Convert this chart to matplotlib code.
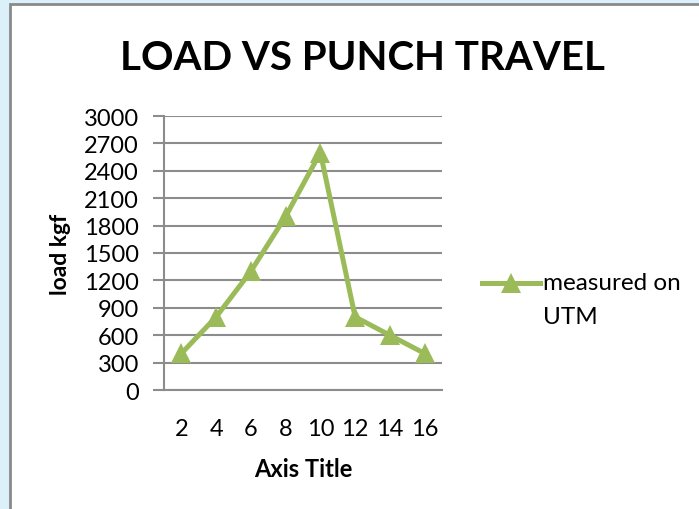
import matplotlib.pyplot as plt
from matplotlib.patches import Rectangle
from matplotlib.lines import Line2D

# data
travel = ['2', '4', '6', '8', '10', '12', '14', '16']
load_kgf = [400, 800, 1300, 1900, 2600, 800, 600, 400]
y_ticks = [0, 300, 600, 900, 1200, 1500, 1800, 2100, 2400, 2700, 3000]

green = '#9bbb59'
grid_gray = '#8c8c8c'
W, H = 699, 510

plt.rcParams['font.family'] = ['Lato', 'DejaVu Sans']

fig = plt.figure(figsize=(W / 100, H / 100), dpi=100, facecolor='#dcf0fa')

# white chart area with grey frame (runs off the right / bottom edge)
fig.patches.append(Rectangle((10 / W, -0.1), 1.2, 1.1 - 5 / H, transform=fig.transFigure,
                             facecolor='white', edgecolor='#8a8a8a', linewidth=2, zorder=-5))

ax = fig.add_axes([164 / W, 1 - 391 / H, (442 - 164) / W, (391 - 117) / H])
ax.set_facecolor('none')

idx = range(len(travel))
ax.plot(idx, load_kgf, color=green, linewidth=3.6, marker='^', markersize=14,
        markeredgewidth=0, clip_on=False, zorder=3)

ax.set_xlim(-0.5, len(travel) - 0.5)
ax.set_ylim(0, 3000)
ax.set_yticks(y_ticks)
ax.set_yticklabels([str(v) for v in y_ticks], fontsize=17)
ax.set_xticks(list(idx))
ax.set_xticklabels(travel, fontsize=17)
ax.tick_params(axis='y', length=8, width=1.5, color=grid_gray, pad=10)
ax.tick_params(axis='x', length=0, pad=20)

ax.grid(axis='y', color=grid_gray, linewidth=1.5)
ax.set_axisbelow(True)
for s in ['top', 'right']:
    ax.spines[s].set_visible(False)
ax.spines['left'].set_color(grid_gray)
ax.spines['left'].set_linewidth(1.5)
ax.spines['bottom'].set_color(grid_gray)
ax.spines['bottom'].set_linewidth(1.5)

ax.set_ylabel('load kgf', fontsize=16.5, fontweight='bold', labelpad=9)
ax.set_xlabel('Axis Title', fontsize=17, fontweight='bold', labelpad=13)

fig.text(362 / W, 1 - 59 / H, 'LOAD VS PUNCH TRAVEL', fontsize=29, fontweight='bold',
         ha='center', va='center')

# legend, drawn like the Excel one
ly = 1 - 284 / H
fig.lines.append(Line2D([482 / W, 540 / W], [ly, ly], transform=fig.transFigure,
                        color=green, linewidth=3.6))
fig.lines.append(Line2D([511 / W], [ly], transform=fig.transFigure, color=green,
                        marker='^', markersize=14, markeredgewidth=0))
fig.text(543 / W, ly, 'measured on', fontsize=17.5, ha='left', va='center')
fig.text(543 / W, 1 - 318 / H, 'UTM', fontsize=17.5, ha='left', va='center')

fig.savefig('out.png', dpi=100, facecolor=fig.get_facecolor())
